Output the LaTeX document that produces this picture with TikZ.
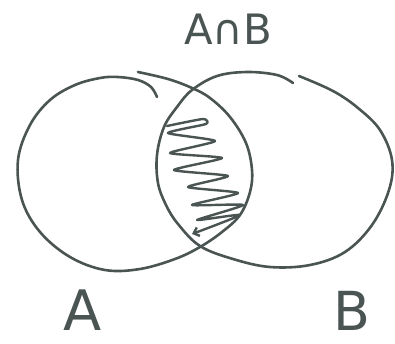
\documentclass[tikz,border=0pt]{standalone}
\usepackage{fontspec}
\setmainfont{DejaVu Sans}
\usetikzlibrary{arrows.meta}
\definecolor{pen}{HTML}{4A5553}
\tikzset{
  stroke/.style={pen, line width=2.6bp, line cap=round, line join=round},
  lbl/.style={text=pen, inner sep=0pt}
}
\begin{document}
\begin{tikzpicture}[x=1bp, y=-1bp]
  \useasboundingbox (0,0) rectangle (395,344);
  % set A
  \draw[stroke] plot[smooth, tension=0.6] coordinates {
    (157,97) (151,87) (138,80) (118,77) (100,78) (75,85) (50,100) (30,125)
    (18,160) (22,200) (40,232) (70,257) (105,270) (140,269) (175,259)
    (200,247) (222,232) (240,215) (250,192) (252,170) (246,143) (230,117)
    (210,98) (192,88) (168,79) (138,72)};
  % set B
  \draw[stroke] plot[smooth, tension=0.6] coordinates {
    (293,83) (277,75) (247,72) (217,76) (192,90) (177,107) (164,127)
    (157,155) (158,183) (166,205) (178,224) (200,246) (233,259) (270,267)
    (310,265) (345,252) (372,225) (389,190) (392,160) (380,130) (358,108)
    (333,91) (299,76)};
  % shading of the overlap
  \draw[stroke, line width=2.4bp, -{Straight Barb[length=5bp, width=9bp]}]
    plot[smooth, tension=0.35] coordinates {
    (167,126) (203,119) (206,124) (168,133) (215,141) (170,153) (222,158)
    (174,170) (228,176) (188,187) (238,193) (192,205) (243,205) (197,220)
    (240,215) (192,234)};
  \node[lbl, font=\fontsize{42}{42}\selectfont] (cap) at (228,29) {A∩B};
  \node[lbl, font=\fontsize{56}{56}\selectfont] (a) at (83,310) {A};
  \node[lbl, font=\fontsize{54}{54}\selectfont] (b) at (352,311) {B};
\end{tikzpicture}
\end{document}
